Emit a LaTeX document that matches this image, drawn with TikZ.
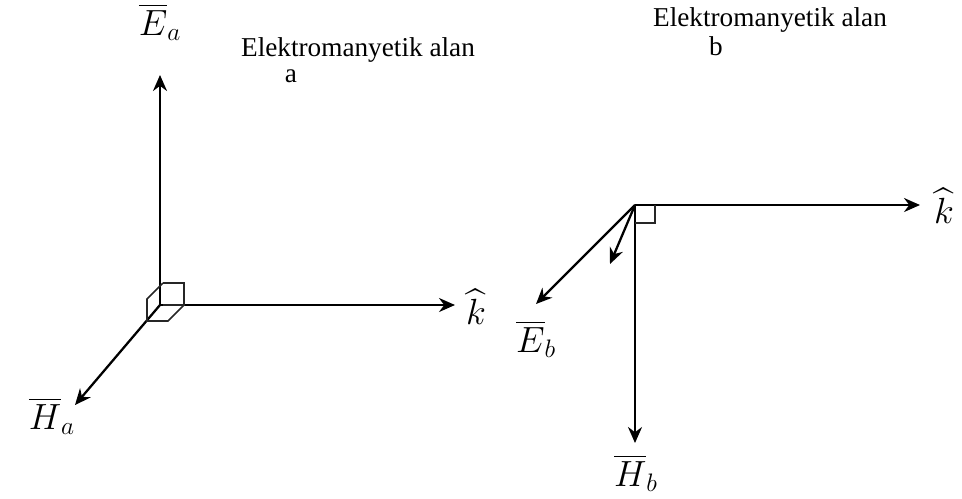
\documentclass[tikz,border=0pt]{standalone}
\usepackage{amsmath}
\usepackage{fontspec}
\setmainfont{Liberation Serif}
\usetikzlibrary{arrows.meta}

\begin{document}
\begin{tikzpicture}[x=0.02cm, y=-0.02cm, >=Stealth,
  vec/.style={-{Stealth[length=3.2mm, width=2.8mm]}, line width=1.3pt, draw=black},
  edge/.style={line width=0.9pt, draw=black!85},
  lbl/.style={font=\fontsize{20}{22}\selectfont, inner sep=0pt},
  ttl/.style={font=\fontsize{15.5}{17}\selectfont, inner sep=0pt}]
  \useasboundingbox (0,0) rectangle (962,498);
  % --- field a
  \coordinate (oa)  at (160,305);
  \coordinate (Eta) at (160,75);
  \coordinate (kta) at (455,305);
  \coordinate (Hta) at (75,405);
  \draw[vec] (oa) -- (Eta);
  \draw[vec] (oa) -- (kta);
  \draw[vec] (oa) -- (Hta);
  \draw[edge] (163,305) -- (184,305) -- (184,283) -- (163,283);
  \draw[edge] (163,283) -- (147,299) -- (147,321) -- (168,321) -- (184,305);
  \node[lbl] (Ea) at (160,22)  {$\overline{E}_a$};
  \node[lbl] (ka) at (476,307) {$\widehat{k}$};
  \node[lbl] (Ha) at (52,416)  {$\overline{H}_a$};
  \node[ttl] (ta) at (358,50)  {Elektromanyetik alan};
  \node[ttl] (la) at (291,76)  {a};
  % --- field b
  \coordinate (ob)  at (635,205);
  \coordinate (ktb) at (920,205);
  \coordinate (Htb) at (635,443);
  \coordinate (Etb) at (536,304);
  \coordinate (stb) at (610,264);
  \draw[vec] (ob) -- (ktb);
  \draw[vec] (ob) -- (Htb);
  \draw[vec] (ob) -- (Etb);
  \draw[vec] (ob) -- (stb);
  \draw[edge] (635,223) -- (655,223) -- (655,205);
  \node[lbl] (kb) at (944,206) {$\widehat{k}$};
  \node[lbl] (Eb) at (536,339) {$\overline{E}_b$};
  \node[lbl] (Hb) at (636,473) {$\overline{H}_b$};
  \node[ttl] (tb) at (770,20)  {Elektromanyetik alan};
  \node[ttl] (lb) at (716,46)  {b};
\end{tikzpicture}
\end{document}
